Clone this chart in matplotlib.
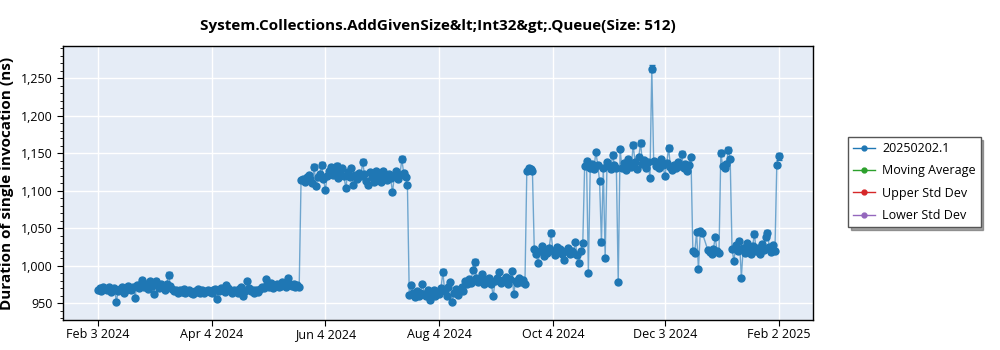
import numpy as np
import pandas as pd
import matplotlib
matplotlib.use('Agg')
import matplotlib.pyplot as plt
from matplotlib.lines import Line2D
from matplotlib.ticker import AutoMinorLocator, FuncFormatter

plt.rcParams['font.family'] = ['Open Sans', 'DejaVu Sans']

title = "System.Collections.AddGivenSize&lt;Int32&gt;.Queue(Size: 512)"
y_label = "Duration of single invocation (ns)"
series_name = "20250202.1"
legend_names = [series_name, "Moving Average", "Upper Std Dev", "Lower Std Dev"]
legend_colors = ["#1f77b4", "#2ca02c", "#d62728", "#9467bd"]
tick_dates = ["2024-02-03", "2024-04-04", "2024-06-04", "2024-08-04",
              "2024-10-04", "2024-12-03", "2025-02-02"]

# daily results, first run: Feb 3 2024 .. Dec 23 2024
first_start = "2024-02-03"
feb_may = [968, 970, 966, 972, 969, 967, 971, 965, 968, 970,
           952,
           966, 969, 971, 964, 968, 973, 970, 967, 972,
           957,
           974, 970, 976, 981, 972, 975, 969, 980, 973,
           962,
           980,
           974, 970, 976, 972, 968, 975, 988,
           973, 969, 966, 968, 964, 967, 965, 969, 963, 966,
           968, 964, 962, 966, 965, 969, 963, 967, 964, 966,
           968, 965, 963, 967, 969, 956, 966, 970, 968, 965,
           974, 970, 967, 964, 968, 966, 963, 969, 971, 959, 966, 980,
           970, 966, 968, 964, 967, 965, 969, 972, 970,
           982, 975, 972, 977, 970, 974, 976, 971, 973, 978,
           975, 972, 984, 976, 973, 975, 971, 974, 972]
may_jul = [1114, 1116, 1112, 1118, 1121, 1115, 1110, 1132, 1106, 1118,
           1122, 1134, 1116, 1101, 1119, 1126, 1132, 1121, 1128, 1133,
           1117, 1124, 1130, 1119, 1103, 1125, 1118, 1131, 1107, 1121,
           1116, 1124, 1119, 1138, 1122, 1113, 1107, 1125, 1118, 1111,
           1127, 1115, 1120, 1112, 1127, 1118, 1114, 1122, 1117, 1098,
           1119, 1126, 1115, 1121, 1142, 1124, 1118, 1108]
jul_sep = [961, 974, 963, 958, 966, 960, 964, 976, 962, 959,
           967, 954, 963, 968, 960, 965, 962, 970, 991, 966,
           960, 972, 978, 952, 964, 969, 961, 967, 972, 966,
           979, 975, 982, 977, 994, 1005, 983, 978, 980, 989,
           976, 981, 978, 984, 975, 959, 980, 983, 992, 977,
           981, 979, 985, 976, 982, 993, 962, 980, 977, 983,
           978, 981, 976]
sep_high = [1126, 1131, 1129, 1127]
sep_oct = [1022, 1015, 1004, 1019, 1026, 1013, 1021, 1017, 1024, 1043,
           1020, 1014, 1025, 1018, 1022, 1016, 1007, 1019, 1023, 1015,
           1020, 1017, 1031, 1014, 1004, 1019, 1030]
oct_dec = [1133, 1140, 990, 1131, 1136, 1129, 1152, 1135, 1113, 1031,
           1130, 1010, 1138, 1133, 1129, 1148, 1134, 1131, 978, 1156,
           1130, 1137, 1128, 1143, 1135, 1132, 1161, 1139, 1129, 1145,
           1164, 1136, 1141, 1131, 1138, 1117, 1263, 1140, 1133, 1136,
           1130, 1142, 1134, 1119, 1137, 1157, 1132, 1128, 1135, 1131,
           1138, 1133, 1149, 1130, 1136, 1127, 1134, 1145]
dec_a = [1020, 1017, 1045, 995, 1046, 1044]

# second run: Dec 26 2024 .. Feb 2 2025
second_start = "2024-12-26"
dec_b = [1021, 1018, 1016, 1022, 1038, 1019, 1017]
jan_high = [1150, 1133, 1130, 1136, 1154, 1143]
jan = [1022, 1006, 1028, 1019, 1033, 984, 1024, 1017, 1030, 1021,
       1015, 1026, 1042, 1019, 1023, 1016, 1029, 1021, 1038, 1044,
       1025, 1018, 1027, 1020]
feb_end = [1135, 1146]

# spread (ns) per point; most are small, a few are wider
base_err = 2.0
wide_err = {"2024-03-12": 4, "2024-05-29": 4, "2024-06-02": 4, "2024-06-10": 4,
            "2024-06-24": 4, "2024-07-15": 4, "2024-08-06": 4, "2024-08-23": 4,
            "2024-10-03": 4, "2024-10-30": 4, "2024-11-05": 4, "2024-11-16": 4,
            "2024-11-20": 4, "2024-11-26": 5, "2024-12-05": 4, "2024-12-12": 4,
            "2024-12-20": 3, "2025-01-02": 4, "2025-01-06": 4, "2025-01-20": 4,
            "2025-01-27": 4, "2025-02-02": 5}

first_vals = feb_may + may_jul + jul_sep + sep_high + sep_oct + oct_dec + dec_a
second_vals = dec_b + jan_high + jan + feb_end
dates = pd.date_range(first_start, periods=len(first_vals), freq='D').append(
    pd.date_range(second_start, periods=len(second_vals), freq='D'))
values = np.array(first_vals + second_vals, dtype=float)
errs = np.array([wide_err.get(d.strftime('%Y-%m-%d'), base_err) for d in dates])

blue = legend_colors[0]
fig = plt.figure(figsize=(10, 3.5), dpi=100)
ax = fig.add_axes([0.063, 0.086, 0.75, 0.782])
ax.set_facecolor('#e5ecf6')

ax.plot(dates, values, color=blue, lw=1, alpha=0.6, zorder=3)
ax.errorbar(dates, values, yerr=errs, fmt='o', ms=5, color=blue,
            ecolor=blue, elinewidth=1, capsize=2.5, capthick=1, zorder=4)

ax.set_ylim(927.5, 1293)
ax.set_xlim(pd.Timestamp("2024-02-03") - pd.Timedelta(days=18.6),
            pd.Timestamp("2025-02-02") + pd.Timedelta(days=18.4))
ticks = pd.to_datetime(tick_dates)
ax.set_xticks(ticks)
ax.set_xticklabels([f"{t.strftime('%b')} {t.day} {t.year}" for t in ticks])
ax.yaxis.set_major_formatter(FuncFormatter(lambda v, p: f"{v:,.0f}"))
ax.yaxis.set_minor_locator(AutoMinorLocator(5))
ax.tick_params(labelsize=9, length=4, color='black')
ax.tick_params(axis='x', pad=2)
ax.tick_params(which='minor', length=2)
ax.grid(True, color='white', lw=1)
ax.set_axisbelow(True)
for s in ax.spines.values():
    s.set_color('black')
    s.set_linewidth(1)

ax.set_title(title, fontsize=11, fontweight='bold', pad=12)
ax.set_ylabel(y_label, fontsize=11, fontweight='bold')
ax.yaxis.set_label_coords(-0.065, 0.5)

handles = [Line2D([], [], color=c, lw=1, marker='o', ms=3.5) for c in legend_colors]
leg = ax.legend(handles, legend_names, loc='upper left', bbox_to_anchor=(1.047, 0.668),
                fontsize=9, frameon=True, fancybox=False, shadow=True,
                edgecolor='#555555', framealpha=1, borderaxespad=0,
                handlelength=1.7, handletextpad=0.6, labelspacing=0.75)
leg.get_frame().set_linewidth(1)

fig.savefig('out.png', dpi=100)
